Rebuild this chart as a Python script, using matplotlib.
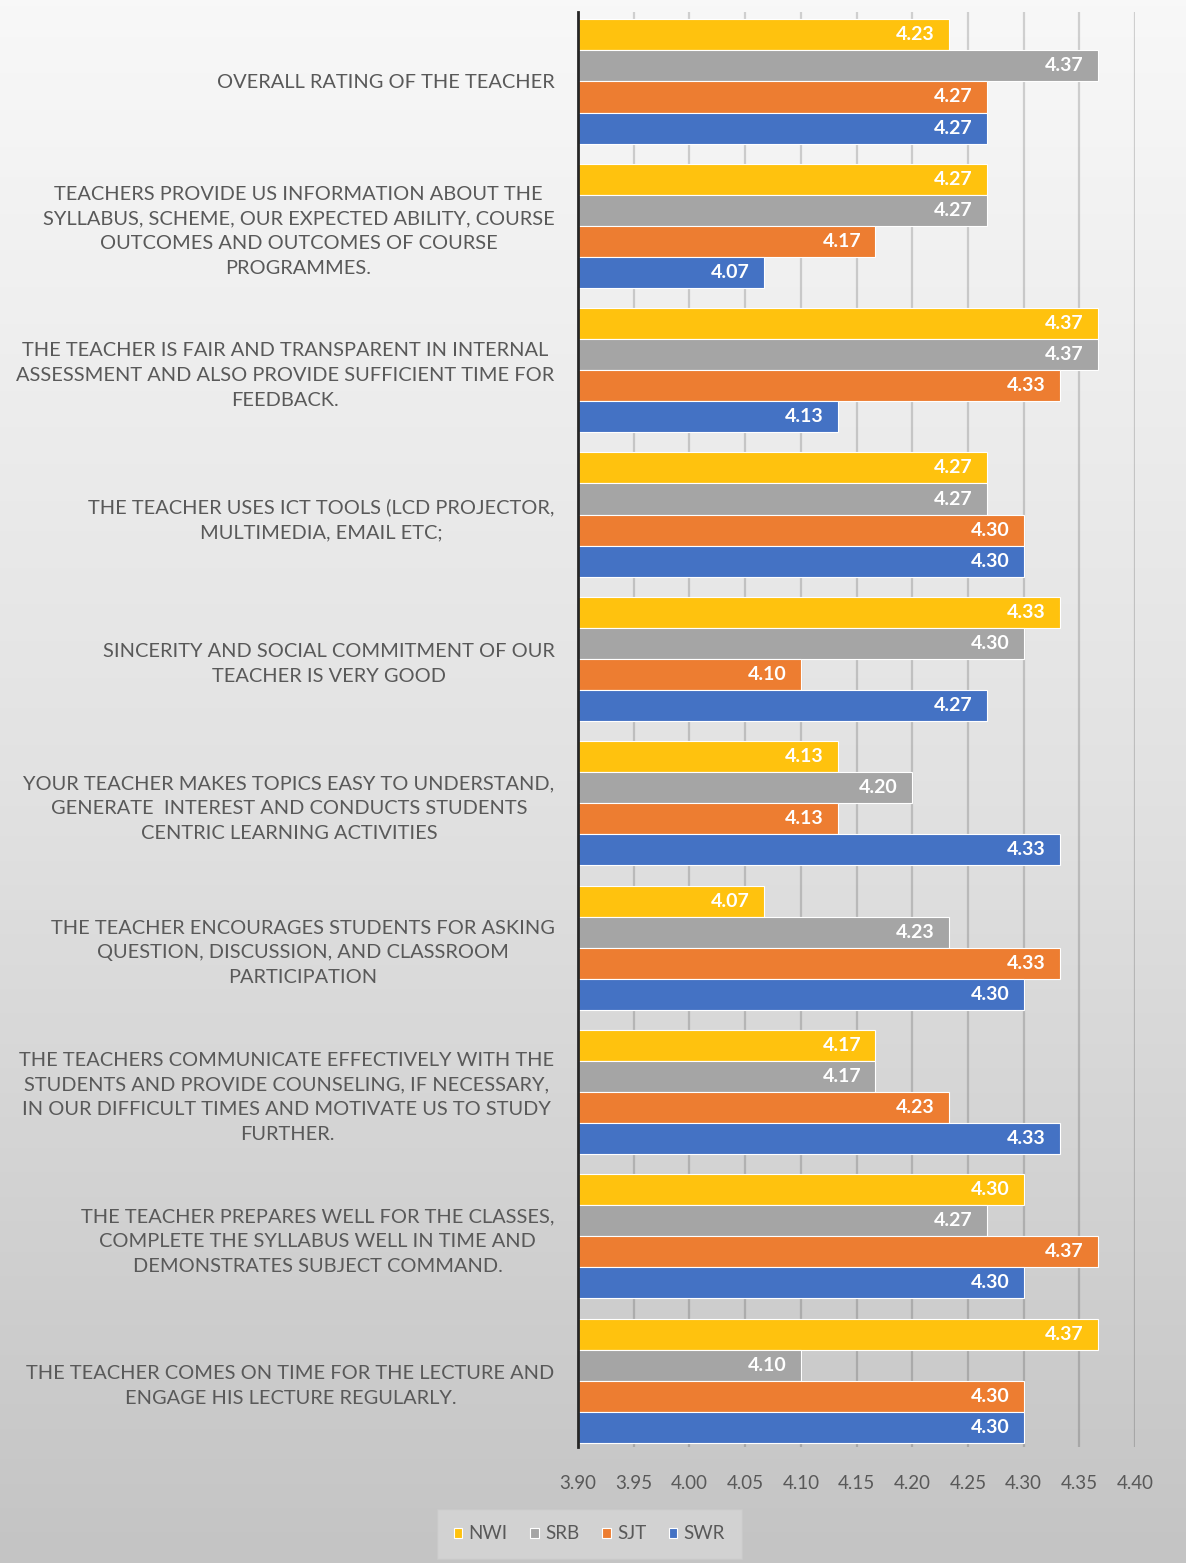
import numpy as np
import matplotlib.pyplot as plt
from matplotlib.colors import LinearSegmentedColormap

plt.rcParams['font.family'] = ['Lato', 'DejaVu Sans']

# data (top group first)
categories = [
    "OVERALL RATING OF THE TEACHER",
    "TEACHERS PROVIDE US INFORMATION ABOUT THE\nSYLLABUS, SCHEME, OUR EXPECTED ABILITY, COURSE\nOUTCOMES AND OUTCOMES OF COURSE\nPROGRAMMES.",
    "THE TEACHER IS FAIR AND TRANSPARENT IN INTERNAL\nASSESSMENT AND ALSO PROVIDE SUFFICIENT TIME FOR\nFEEDBACK.",
    "THE TEACHER USES ICT TOOLS (LCD PROJECTOR,\nMULTIMEDIA, EMAIL ETC;",
    "SINCERITY AND SOCIAL COMMITMENT OF OUR\nTEACHER IS VERY GOOD",
    "YOUR TEACHER MAKES TOPICS EASY TO UNDERSTAND,\nGENERATE  INTEREST AND CONDUCTS STUDENTS\nCENTRIC LEARNING ACTIVITIES",
    "THE TEACHER ENCOURAGES STUDENTS FOR ASKING\nQUESTION, DISCUSSION, AND CLASSROOM\nPARTICIPATION",
    "THE TEACHERS COMMUNICATE EFFECTIVELY WITH THE\nSTUDENTS AND PROVIDE COUNSELING, IF NECESSARY,\nIN OUR DIFFICULT TIMES AND MOTIVATE US TO STUDY\nFURTHER.",
    "THE TEACHER PREPARES WELL FOR THE CLASSES,\nCOMPLETE THE SYLLABUS WELL IN TIME AND\nDEMONSTRATES SUBJECT COMMAND.",
    "THE TEACHER COMES ON TIME FOR THE LECTURE AND\nENGAGE HIS LECTURE REGULARLY.",
]
series_names = ['NWI', 'SRB', 'SJT', 'SWR']
nwi = [4.233, 4.267, 4.367, 4.267, 4.333, 4.133, 4.067, 4.167, 4.300, 4.367]
srb = [4.367, 4.267, 4.367, 4.267, 4.300, 4.200, 4.233, 4.167, 4.267, 4.100]
sjt = [4.267, 4.167, 4.333, 4.300, 4.100, 4.133, 4.333, 4.233, 4.367, 4.300]
swr = [4.267, 4.067, 4.133, 4.300, 4.267, 4.333, 4.300, 4.333, 4.300, 4.300]
xticks = [3.90, 3.95, 4.00, 4.05, 4.10, 4.15, 4.20, 4.25, 4.30, 4.35, 4.40]

colors = ['#FFC20E', '#A5A5A5', '#ED7D31', '#4472C4']
TEXT = '#595959'
BASE = 3.90

fig = plt.figure(figsize=(11.86, 15.63), dpi=100)

# gradient background
bg = fig.add_axes([0, 0, 1, 1], zorder=-10)
cmap = LinearSegmentedColormap.from_list('bg', ['#f8f8f8', '#e2e2e2', '#c4c4c4'])
grad = np.linspace(0, 1, 256).reshape(-1, 1)
bg.imshow(grad, aspect='auto', cmap=cmap, extent=[0, 1, 0, 1], origin='upper')
bg.axis('off')

ax = fig.add_axes([0.4874, 0.0742, 0.4696, 0.918])
ax.patch.set_alpha(0)

y = np.arange(len(categories))
h = 0.215
for k, (name, vals) in enumerate(zip(series_names, [nwi, srb, sjt, swr])):
    pos = y + (k - 1.5) * h
    widths = np.array(vals) - BASE
    bars = ax.barh(pos, widths, left=BASE, height=h, color=colors[k],
                   edgecolor='white', linewidth=0.8, label=name, zorder=3)
    for b, v in zip(bars, vals):
        ax.text(b.get_x() + b.get_width() - 0.013, b.get_y() + h / 2, f'{v:.2f}',
                ha='right', va='center', color='white', fontsize=14,
                fontweight='bold', zorder=4)

ax.set_xlim(3.90, 4.40)
ax.set_ylim(9.46, -0.48)
ax.set_xticks(xticks)
ax.set_xticklabels([f'{t:.2f}' for t in xticks])
ax.set_yticks(y)
ax.set_yticklabels(categories)
for t in ax.get_yticklabels():
    t.set_multialignment('center')
    t.set_linespacing(1.55)
ax.tick_params(axis='y', length=0, pad=17, labelsize=14.4, labelcolor=TEXT)
ax.tick_params(axis='x', length=0, pad=20, labelsize=13.5, labelcolor=TEXT)

ax.grid(axis='x', color='black', alpha=0.16, linewidth=1.6, zorder=0)
for s in ['top', 'right', 'bottom']:
    ax.spines[s].set_visible(False)
ax.spines['left'].set_color('#262626')
ax.spines['left'].set_linewidth(2.0)
ax.spines['left'].set_zorder(5)

leg = fig.legend(loc='center', bbox_to_anchor=(0.497, 0.0186), ncol=4,
                 frameon=True, fontsize=13.5, labelcolor=TEXT, handlelength=0.45,
                 handleheight=0.45, handletextpad=0.35, columnspacing=1.2,
                 borderpad=0.6)
leg.get_frame().set_facecolor('#d6d6d6')
leg.get_frame().set_edgecolor('#c9c9c9')
leg.get_frame().set_boxstyle('square')

fig.savefig('out.png', dpi=100)
